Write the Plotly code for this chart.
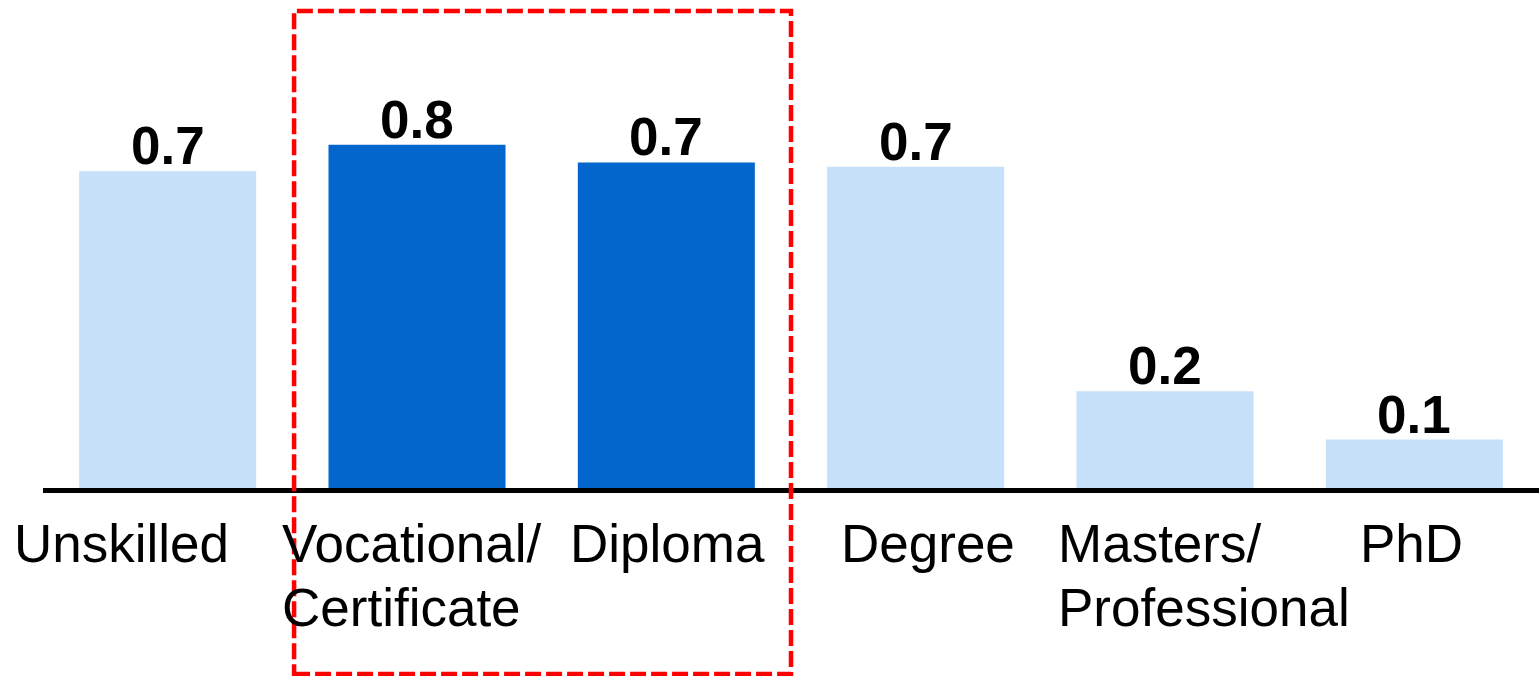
import plotly.graph_objects as go

categories = ["Unskilled", "Vocational/ Certificate", "Diploma", "Degree", "Masters/ Professional", "PhD"]
label_lines = [["Unskilled"], ["Vocational/", "Certificate"], ["Diploma"], ["Degree"], ["Masters/", "Professional"], ["PhD"]]
values = [0.72, 0.78, 0.74, 0.73, 0.22, 0.11]
value_labels = ["0.7", "0.8", "0.7", "0.7", "0.2", "0.1"]
highlighted = [False, True, True, False, False, False]
label_offsets = [-156, -137, -98, -77, -109, -56]  # left edge of label relative to bar centre (px)

LIGHT = "#C7E0F9"
DARK = "#0366CC"
FONT = "Liberation Sans, Arial, sans-serif"

fig = go.Figure()
fig.add_trace(go.Bar(
    x=categories,
    y=values,
    marker=dict(color=[DARK if h else LIGHT for h in highlighted], line=dict(width=0)),
    hoverinfo="skip",
))

annotations = []
for i, lab in enumerate(value_labels):
    annotations.append(dict(
        x=categories[i], xref="x", y=values[i], yref="y",
        text=f"<b>{lab}</b>", showarrow=False,
        xanchor="center", yanchor="bottom", yshift=-6,
        font=dict(family=FONT, size=53, color="black"),
    ))
for i, lines in enumerate(label_lines):
    for j, line in enumerate(lines):
        annotations.append(dict(
            x=categories[i], xref="x", y=0, yref="paper",
            text=line, showarrow=False,
            xanchor="left", yanchor="top",
            xshift=label_offsets[i], yshift=-24 - 64 * j,
            font=dict(family=FONT, size=53, color="black"),
        ))

fig.add_shape(
    type="rect", xref="x", yref="paper",
    x0=0.507, x1=2.50, y0=-0.4227, y1=1.084,
    line=dict(color="#FF0000", width=4.5, dash="16px,5px"),
    fillcolor="rgba(0,0,0,0)",
)

fig.update_layout(
    width=1540, height=676,
    margin=dict(l=43, r=1, t=48, b=188),
    paper_bgcolor="white", plot_bgcolor="white",
    bargap=0.29,
    showlegend=False,
    annotations=annotations,
    xaxis=dict(showticklabels=False, showline=True, linecolor="black", linewidth=5,
               showgrid=False, zeroline=False, ticks="", range=[-0.5, 5.5]),
    yaxis=dict(visible=False, range=[0, 1], showgrid=False, zeroline=False),
    font=dict(family=FONT),
)

fig.write_html("out.html", config={"displayModeBar": False},
               post_script="document.body.style.margin='0px';document.body.style.overflow='hidden';")
